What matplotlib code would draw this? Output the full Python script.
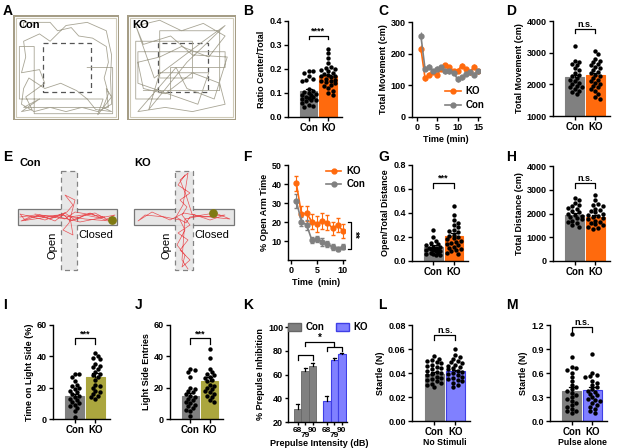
import numpy as np
import matplotlib
matplotlib.use('Agg')
import matplotlib.pyplot as plt
from matplotlib.patches import Rectangle, Patch
from matplotlib.lines import Line2D

plt.rcParams['font.family'] = ['Liberation Sans', 'DejaVu Sans']
plt.rcParams['font.weight'] = 'bold'
plt.rcParams['axes.labelweight'] = 'bold'

W, H = 617, 448
GRAY = '#808080'
ORANGE = '#FF6A0D'
OLIVE = '#ABA63E'
BLUE = '#8080FF'
BLUE_EDGE = '#3F3FE6'

# ---- data ----
groups = ['Con', 'KO']

# B ratio center/total
b_means = [0.107, 0.169]
b_errs = [0.008, 0.007]
b_con = [0.19, 0.19, 0.185, 0.17, 0.16, 0.155, 0.15, 0.115, 0.11, 0.105, 0.10, 0.095, 0.09,
         0.09, 0.085, 0.085, 0.08, 0.075, 0.07, 0.07, 0.065, 0.06, 0.05, 0.045, 0.04]
b_ko = [0.285, 0.265, 0.245, 0.225, 0.21, 0.205, 0.20, 0.195, 0.19, 0.185, 0.18, 0.175, 0.17,
        0.17, 0.165, 0.16, 0.155, 0.15, 0.15, 0.145, 0.14, 0.135, 0.13, 0.12, 0.11, 0.10, 0.09]

# C total movement over time
c_time = list(range(1, 16))
c_ko = [215, 123, 134, 142, 134, 152, 163, 157, 146, 146, 162, 150, 141, 158, 144]
c_ko_err = [12, 8, 8, 7, 7, 7, 7, 7, 7, 7, 7, 7, 7, 8, 7]
c_con = [255, 152, 158, 144, 153, 158, 144, 144, 139, 120, 125, 137, 141, 134, 144]
c_con_err = [12, 8, 8, 7, 7, 7, 7, 7, 7, 9, 8, 7, 7, 8, 7]

# D total movement
d_means = [2220, 2290]
d_errs = [80, 80]
d_con = [3200, 2750, 2700, 2650, 2600, 2500, 2450, 2350, 2300, 2250, 2200, 2150, 2100, 2050,
         2000, 1950, 1900, 1900, 1850, 1800, 1750, 1700]
d_ko = [3050, 2950, 2800, 2750, 2700, 2650, 2600, 2550, 2500, 2450, 2400, 2350, 2300, 2250,
        2200, 2150, 2100, 2050, 2000, 1950, 1900, 1850, 1800, 1700, 1600, 1550]

# F open arm time
f_time = list(range(1, 11))
f_ko = [40.4, 24.2, 24.6, 20.2, 19.0, 20.5, 19.6, 16.7, 18.4, 15.3]
f_ko_err = [4, 4, 4, 4, 4, 4, 4, 3.5, 3.5, 3.5]
f_con = [31.0, 20.2, 18.4, 10.5, 10.9, 9.6, 8.6, 6.7, 5.8, 7.0]
f_con_err = [3.5, 2.5, 2.5, 1.5, 1.5, 2, 1.5, 1.5, 1, 1.2]

# G open/total distance
g_means = [0.12, 0.21]
g_errs = [0.01, 0.02]
g_con = [0.26, 0.20, 0.17, 0.15, 0.14, 0.13, 0.12, 0.12, 0.11, 0.11, 0.10, 0.10, 0.09, 0.09,
         0.08, 0.08, 0.07, 0.07, 0.06, 0.06, 0.05, 0.05]
g_ko = [0.46, 0.38, 0.34, 0.32, 0.30, 0.28, 0.26, 0.25, 0.24, 0.22, 0.21, 0.20, 0.19, 0.18,
        0.17, 0.16, 0.15, 0.14, 0.13, 0.12, 0.11, 0.10, 0.09, 0.08, 0.07, 0.06]

# H total distance
h_means = [1950, 1870]
h_errs = [70, 70]
h_con = [2650, 2550, 2450, 2350, 2300, 2250, 2200, 2100, 2050, 2000, 1950, 1900, 1850, 1800,
         1750, 1700, 1650, 1600, 1500, 1450]
h_ko = [2800, 2550, 2400, 2350, 2300, 2200, 2150, 2100, 2050, 2000, 1950, 1900, 1850, 1800,
        1750, 1700, 1650, 1600, 1550, 1500, 1450, 1400, 1350]

# I time on light side
i_means = [14.5, 26.8]
i_errs = [1.5, 2.5]
i_con = [29, 28.5, 27, 24, 22, 21, 20, 19, 18, 17, 16, 15, 14, 13, 12, 11, 10, 9, 8, 7, 5, 1]
i_ko = [42, 40, 39, 38, 35, 34, 33, 32, 30, 29, 28, 27, 25, 22, 21, 20, 18, 17, 16, 15, 14, 13]

# J light side entries
j_means = [15.0, 24.5]
j_errs = [1.6, 2.5]
j_con = [32, 31, 30, 27, 20, 19, 18, 17, 16, 15, 14, 13, 12, 11, 10, 9, 8, 7, 6, 5, 2]
j_ko = [45, 39, 32, 30, 29, 28, 27, 26, 25, 24, 22, 21, 20, 19, 18, 17, 16, 15, 14, 12, 11]

# K prepulse inhibition
k_db = ['68', '79', '90']
k_con = [31, 63, 67.5]
k_con_err = [4, 2.5, 2.5]
k_ko = [38, 72.5, 77]
k_ko_err = [3.5, 1.5, 1.5]

# L startle, no stimuli
l_means = [0.0394, 0.0414]
l_errs = [0.0015, 0.0015]
l_con = [0.054, 0.052, 0.051, 0.050, 0.049, 0.048, 0.047, 0.046, 0.045, 0.044, 0.043, 0.042,
         0.041, 0.040, 0.039, 0.038, 0.037, 0.036, 0.035, 0.034, 0.033, 0.032, 0.031, 0.030, 0.028]
l_ko = [0.060, 0.055, 0.053, 0.052, 0.050, 0.049, 0.048, 0.047, 0.046, 0.045, 0.044, 0.043,
        0.042, 0.041, 0.040, 0.039, 0.038, 0.037, 0.036, 0.035, 0.034, 0.033, 0.032, 0.030, 0.028]

# M startle, pulse alone
m_means = [0.372, 0.385]
m_errs = [0.05, 0.035]
m_con = [1.09, 0.80, 0.67, 0.66, 0.64, 0.60, 0.55, 0.50, 0.45, 0.42, 0.40, 0.38, 0.35, 0.32,
         0.30, 0.28, 0.25, 0.22, 0.20, 0.18, 0.15, 0.13, 0.12, 0.10]
m_ko = [0.84, 0.60, 0.58, 0.56, 0.55, 0.50, 0.48, 0.45, 0.42, 0.40, 0.38, 0.36, 0.34, 0.32,
        0.30, 0.28, 0.26, 0.25, 0.22, 0.20, 0.18, 0.15, 0.12, 0.10]

# A open field tracks (box coords 0-1)
a_con_x = [0.10, 0.10, 0.35, 0.42, 0.55, 0.62, 0.75, 0.88, 0.90, 0.86, 0.90, 0.85, 0.93, 0.78,
           0.70, 0.60, 0.45, 0.30, 0.15, 0.10, 0.08, 0.20, 0.35, 0.50, 0.65, 0.80, 0.93, 0.92,
           0.93, 0.88, 0.70, 0.50, 0.35, 0.25, 0.10, 0.12, 0.08, 0.25, 0.30, 0.12, 0.18, 0.08,
           0.25, 0.10, 0.90, 0.88, 0.93, 0.80, 0.85, 0.06, 0.06, 0.20, 0.20, 0.94, 0.94, 0.70]
a_con_y = [0.88, 0.93, 0.93, 0.85, 0.88, 0.80, 0.78, 0.70, 0.55, 0.40, 0.25, 0.12, 0.08, 0.10,
           0.20, 0.28, 0.35, 0.30, 0.40, 0.30, 0.15, 0.08, 0.12, 0.08, 0.12, 0.08, 0.15, 0.40,
           0.62, 0.85, 0.93, 0.90, 0.75, 0.82, 0.75, 0.60, 0.45, 0.48, 0.35, 0.22, 0.10, 0.08,
           0.20, 0.12, 0.12, 0.30, 0.22, 0.05, 0.20, 0.20, 0.70, 0.70, 0.06, 0.06, 0.50, 0.50]
a_ko_x = [0.10, 0.30, 0.50, 0.70, 0.90, 0.75, 0.50, 0.30, 0.10, 0.15, 0.35, 0.60, 0.85, 0.90,
          0.60, 0.35, 0.10, 0.20, 0.45, 0.55, 0.80, 0.92, 0.60, 0.40, 0.15, 0.08, 0.25, 0.70,
          0.90, 0.55, 0.20, 0.30, 0.75, 0.65, 0.10, 0.10, 0.90, 0.90, 0.40, 0.40, 0.08, 0.08,
          0.60, 0.60, 0.30, 0.30, 0.85, 0.85, 0.15]
a_ko_y = [0.90, 0.95, 0.85, 0.92, 0.80, 0.60, 0.70, 0.60, 0.55, 0.30, 0.25, 0.45, 0.35, 0.15,
          0.08, 0.12, 0.08, 0.20, 0.50, 0.30, 0.20, 0.60, 0.62, 0.80, 0.72, 0.90, 0.40, 0.75,
          0.90, 0.55, 0.10, 0.45, 0.45, 0.15, 0.35, 0.65, 0.65, 0.50, 0.50, 0.20, 0.20, 0.75,
          0.75, 0.40, 0.40, 0.85, 0.85, 0.28, 0.28]

# E elevated plus maze tracks (panel coords, y down)
e_con_x = [5, 20, 35, 48, 55, 70, 85, 100, 90, 75, 60, 50, 40, 25, 10, 5, 30, 52, 58, 50,
           60, 54, 48, 58, 55, 80, 95, 70, 45, 15, 6, 40, 65, 90, 60, 50, 20]
e_con_y = [52, 50, 54, 49, 56, 50, 53, 50, 55, 48, 55, 48, 56, 50, 55, 49, 55, 47, 40, 30,
           35, 58, 65, 70, 52, 48, 56, 54, 50, 52, 56, 51, 57, 52, 47, 54, 49]
e_ko_x = [55, 48, 60, 50, 57, 52, 60, 48, 58, 50, 60, 52, 55, 47, 55, 50, 35, 15, 8, 22,
          40, 54, 75, 95, 80, 62, 56, 50, 58, 53, 46, 56, 60, 85, 100, 70, 55, 52, 58]
e_ko_y = [10, 20, 28, 35, 42, 50, 60, 68, 75, 85, 95, 102, 90, 80, 65, 55, 52, 50, 56, 47,
          55, 48, 52, 50, 55, 49, 30, 15, 8, 40, 52, 58, 52, 48, 54, 51, 54, 95, 104]


def px_axes(fig, x0, y0, x1, y1):
    return fig.add_axes([x0 / W, 1 - y1 / H, (x1 - x0) / W, (y1 - y0) / H])


def style(ax, length=3):
    for s in ['top', 'right']:
        ax.spines[s].set_visible(False)
    for s in ['left', 'bottom']:
        ax.spines[s].set_linewidth(1.0)
    ax.tick_params(direction='out', length=length, width=1, labelsize=6.5, pad=1.5)
    for lab in ax.get_xticklabels() + ax.get_yticklabels():
        lab.set_fontweight('bold')


def swarm(vals, lo, hi, h_px, unit_px, dot_px=4.3):
    placed = []
    offs = []
    for v in vals:
        ypx = (v - lo) / (hi - lo) * h_px
        best, best_d = 0.0, -1
        for k in [0, 1, -1, 2, -2, 3, -3, 4, -4]:
            o = k * dot_px * 0.55
            if abs(o) > 0.42 * unit_px:
                continue
            d = min([np.hypot(o - px, ypx - py) for px, py in placed] + [99])
            if d >= dot_px * 0.9:
                best = o
                best_d = d
                break
            if d > best_d:
                best, best_d = o, d
        placed.append((best, ypx))
        offs.append(best / unit_px)
    return offs


def bracket(ax, x1, x2, y, tip, text, size=6.5, dy=0.0):
    ax.plot([x1, x1, x2, x2], [y - tip, y, y, y - tip], color='k', lw=0.9, clip_on=False)
    ax.text((x1 + x2) / 2, y + dy, text, ha='center', va='bottom', fontsize=size,
            fontweight='bold', clip_on=False)


def under_label(ax, x, text, off_px, size=6):
    # text placed a fixed number of pixels under the x axis
    ax.annotate(text, xy=(x, 0), xycoords=('data', 'axes fraction'),
                xytext=(0, -off_px * 0.72), textcoords='offset points',
                ha='center', va='center', fontsize=size, fontweight='bold', annotation_clip=False)


def dot_bar(fig, box, means, errs, dots, colors, ylim, yticks, fmt, ylabel, sig, sig_y, tip,
            xlabel=None, edges=None):
    x0, y0, x1, y1 = box
    ax = px_axes(fig, x0, y0, x1, y1)
    unit_px = (x1 - x0) / 2.75
    edges = edges or colors
    for i in range(2):
        ax.bar(i, means[i], width=0.9, color=colors[i], edgecolor=edges[i], lw=0.8, zorder=1)
        ax.plot([i, i], [means[i], means[i] + errs[i]], color='k', lw=0.9, zorder=4)
        ax.plot([i - 0.15, i + 0.15], [means[i] + errs[i]] * 2, color='k', lw=0.9, zorder=4)
        offs = swarm(dots[i], ylim[0], ylim[1], y1 - y0, unit_px)
        ax.scatter(np.array(offs) + i, dots[i], s=10, color='k', zorder=3, lw=0)
    ax.set_xlim(-1.05, 1.7)
    ax.set_ylim(*ylim)
    ax.set_yticks(yticks)
    ax.set_yticklabels([fmt.format(t) for t in yticks])
    ax.set_xticks([0, 1])
    ax.set_xticklabels(groups, fontsize=7)
    ax.set_ylabel(ylabel, fontsize=6.5, labelpad=2)
    style(ax)
    for lab in ax.get_xticklabels():
        lab.set_fontsize(7)
    if xlabel:
        under_label(ax, 0.5, xlabel, 21.5, size=6.3)
    bracket(ax, 0, 1, sig_y, tip, sig)
    return ax


fig = plt.figure(figsize=(W / 100, H / 100), dpi=100)

# panel letters
for letter, (lx, ly) in {'A': (3, 4), 'B': (243, 4), 'C': (378, 4), 'D': (506, 4),
                         'E': (3, 150), 'F': (243, 150), 'G': (378, 150), 'H': (506, 150),
                         'I': (3, 298), 'J': (135, 298), 'K': (243, 298), 'L': (378, 298),
                         'M': (506, 298)}.items():
    fig.text(lx / W, 1 - ly / H, letter, fontsize=10, fontweight='bold', va='top', ha='left')

# ---- A: open field tracks ----
for (bx0, bx1), lab, tx, ty in [((13, 119), 'Con', a_con_x, a_con_y),
                                ((127, 236), 'KO', a_ko_x, a_ko_y)]:
    ax = px_axes(fig, bx0, 15, bx1, 120)
    ax.set_xlim(0, 1)
    ax.set_ylim(0, 1)
    ax.axis('off')
    ax.add_patch(Rectangle((0, 0), 1, 1, fill=False, ec='#A59D86', lw=2.2))
    ax.add_patch(Rectangle((0.025, 0.025), 0.95, 0.95, fill=False, ec='#CFCAB8', lw=0.8))
    ax.plot(tx, ty, color='#A8A595', lw=0.6)
    ax.add_patch(Rectangle((0.28, 0.27), 0.46, 0.46, fill=False, ec='#555555', lw=0.9,
                           ls=(0, (4, 3))))
    ax.text(0.05, 0.95, lab, fontsize=8, fontweight='bold', va='top', ha='left')

# ---- E: plus maze ----
for (bx0, bx1), lab, tx, ty, hx, vx, dot in [((15, 125), 'Con', e_con_x, e_con_y, (3, 102), (46, 62), (97, 55)),
                                             ((130, 240), 'KO', e_ko_x, e_ko_y, (4, 104), (45, 63), (83, 48))]:
    ax = px_axes(fig, bx0, 165, bx1, 275)
    ax.set_xlim(0, 110)
    ax.set_ylim(110, 0)
    ax.axis('off')
    ax.add_patch(Rectangle((hx[0], 44), hx[1] - hx[0], 16, fc='#E6E6E6', ec='#777777', lw=0.9))
    ax.add_patch(Rectangle((vx[0], 6), vx[1] - vx[0], 99, fc='#E6E6E6', ec='#777777', lw=0.9,
                           ls=(0, (4, 3)), alpha=0.9))
    ax.plot(tx, ty, color='#E8383D', lw=0.5, alpha=0.85)
    ax.scatter([dot[0]], [dot[1]], s=28, color='#7F7A12', zorder=5)
    ax.text(vx[1] + 1, 65, 'Closed', fontsize=8, fontweight='normal', va='top', ha='left')
    ax.text(vx[0] - 3, 80, 'Open', fontsize=8, fontweight='normal', rotation=90,
            va='center', ha='right')
    fig.text((bx0 + 4) / W, 1 - 158 / H, lab, fontsize=8, fontweight='bold', va='top')

# ---- B ----
dot_bar(fig, (288, 21, 342, 117), b_means, b_errs, [b_con, b_ko], [GRAY, ORANGE], (0, 0.4),
        [0, 0.1, 0.2, 0.3, 0.4], '{:.1f}', 'Ratio Center/Total', '****', 0.338, 0.015)

# ---- C ----
ax = px_axes(fig, 412, 22, 480, 117)
ax.errorbar(c_time, c_ko, yerr=c_ko_err, color=ORANGE, marker='o', ms=3.5, lw=1.2,
            capsize=0, elinewidth=0.8, label='KO')
ax.errorbar(c_time, c_con, yerr=c_con_err, color=GRAY, marker='o', ms=3.5, lw=1.2,
            capsize=0, elinewidth=0.8, label='Con')
ax.set_xlim(-1.2, 15.5)
ax.set_ylim(0, 300)
ax.set_yticks([0, 100, 200, 300])
ax.set_xticks([0, 5, 10, 15])
ax.set_xlabel('Time (min)', fontsize=6.5, labelpad=2)
ax.set_ylabel('Total Movement (cm)', fontsize=6.5, labelpad=2)
style(ax)
hl = [Line2D([], [], color=ORANGE, marker='o', ms=3.5, lw=1.2),
      Line2D([], [], color=GRAY, marker='o', ms=3.5, lw=1.2)]
leg = ax.legend(hl, ['KO', 'Con'], loc='lower left', bbox_to_anchor=(0.42, 0.02), frameon=False,
                fontsize=7, handlelength=1.6, handletextpad=0.5, labelspacing=0.4, borderpad=0)
for t in leg.get_texts():
    t.set_fontweight('bold')

# ---- D ----
dot_bar(fig, (553, 21, 610, 116), d_means, d_errs, [d_con, d_ko], [GRAY, ORANGE], (1000, 4000),
        [1000, 2000, 3000, 4000], '{:.0f}', 'Total Movement (cm)', 'n.s.', 3740, 120)

# ---- F ----
ax = px_axes(fig, 288, 165, 345, 260)
ax.errorbar(f_time, f_ko, yerr=f_ko_err, color=ORANGE, marker='o', ms=3.5, lw=1.2,
            capsize=1.5, elinewidth=0.8)
ax.errorbar(f_time, f_con, yerr=f_con_err, color=GRAY, marker='o', ms=3.5, lw=1.2,
            capsize=1.5, elinewidth=0.8)
ax.set_xlim(-0.6, 10.4)
ax.set_ylim(0, 50)
ax.set_yticks([10, 20, 30, 40, 50])
ax.set_xticks([0, 5, 10])
ax.set_xlabel('Time  (min)', fontsize=6.5, labelpad=2)
ax.set_ylabel('% Open Arm Time', fontsize=6.5, labelpad=2)
style(ax)
leg = ax.legend(hl, ['KO', 'Con'], loc='upper left', bbox_to_anchor=(0.58, 1.04), frameon=False,
                fontsize=7, handlelength=1.6, handletextpad=0.5, labelspacing=0.3, borderpad=0)
for t in leg.get_texts():
    t.set_fontweight('bold')
ax.plot([10.9, 11.5, 11.5, 10.9], [20, 20, 6, 6], color='k', lw=0.9, clip_on=False)
ax.text(12.2, 13, '**', fontsize=7, fontweight='bold', rotation=-90, va='center', ha='center')

# ---- G ----
dot_bar(fig, (412, 165, 468, 261), g_means, g_errs, [g_con, g_ko], [GRAY, ORANGE], (0, 0.8),
        [0, 0.2, 0.4, 0.6, 0.8], '{:.1f}', 'Open/Total Distance', '***', 0.65, 0.04)

# ---- H ----
dot_bar(fig, (553, 166, 610, 261), h_means, h_errs, [h_con, h_ko], [GRAY, ORANGE], (0, 4000),
        [0, 1000, 2000, 3000, 4000], '{:.0f}', 'Total Distance (cm)', 'n.s.', 3280, 200)

# ---- I ----
dot_bar(fig, (53, 325, 110, 419), i_means, i_errs, [i_con, i_ko], [GRAY, OLIVE], (0, 60),
        [0, 20, 40, 60], '{:.0f}', 'Time on Light Side (%)', '***', 51.5, 3.5)

# ---- J ----
dot_bar(fig, (170, 325, 223, 419), j_means, j_errs, [j_con, j_ko], [GRAY, OLIVE], (0, 60),
        [0, 20, 40, 60], '{:.0f}', 'Light Side Entries', '***', 51.5, 3.5)

# ---- K ----
ax = px_axes(fig, 288, 327, 347, 422)
xc = np.arange(3)
xk = np.arange(3) + 3.9
ax.bar(xc, k_con, width=1.0, color=GRAY, edgecolor='#666666', lw=0.6)
ax.bar(xk, k_ko, width=1.0, color=BLUE, edgecolor=BLUE_EDGE, lw=0.8)
for xs, ms, es in [(xc, k_con, k_con_err), (xk, k_ko, k_ko_err)]:
    for x, m, e in zip(xs, ms, es):
        ax.plot([x, x], [m, m + e], color='k', lw=0.9)
        ax.plot([x - 0.18, x + 0.18], [m + e] * 2, color='k', lw=0.9)
ax.set_xlim(-1.3, 6.6)
ax.set_ylim(20, 100)
ax.set_yticks([20, 40, 60, 80, 100])
ax.set_xticks(list(xc) + list(xk))
ax.set_xticklabels([k_db[0], '', k_db[2]] * 2)
ax.set_ylabel('% Prepulse Inhibition', fontsize=6.5, labelpad=2)
style(ax, length=2)
for lab in ax.get_xticklabels():
    lab.set_fontsize(6)
for x in [xc[1], xk[1]]:
    under_label(ax, x, k_db[1], 13, size=6)
under_label(ax, (xc[0] + xk[2]) / 2, 'Prepulse Intensity (dB)', 21, size=6.5)
ax.plot([0, 0, 2, 2], [72, 76.5, 76.5, 72], color='k', lw=0.9)
ax.plot([3.9, 3.9, 5.9, 5.9], [80, 83.5, 83.5, 80], color='k', lw=0.9)
bracket(ax, 1, 4.9, 87.5, 3.5, '*', size=7, dy=-0.5)
leg = ax.legend([Patch(fc=GRAY, ec='#666666'), Patch(fc=BLUE, ec=BLUE_EDGE)], groups,
                loc='center left', bbox_to_anchor=(0.0, 1.0), ncol=2, frameon=False, fontsize=7,
                handlelength=1.3, handleheight=0.9, handletextpad=0.5, columnspacing=1.2,
                borderpad=0, borderaxespad=0)
for t in leg.get_texts():
    t.set_fontweight('bold')

# ---- L ----
dot_bar(fig, (412, 325, 470, 421), l_means, l_errs, [l_con, l_ko], [GRAY, BLUE], (0, 0.08),
        [0, 0.02, 0.04, 0.06, 0.08], '{:.2f}', 'Startle (N)', 'n.s.', 0.0715, 0.004,
        xlabel='No Stimuli', edges=['#808080', BLUE_EDGE])

# ---- M ----
dot_bar(fig, (550, 325, 607, 421), m_means, m_errs, [m_con, m_ko], [GRAY, BLUE], (0, 1.2),
        [0, 0.3, 0.6, 0.9, 1.2], '{:.1f}', 'Startle (N)', 'n.s.', 1.17, 0.06,
        xlabel='Pulse alone', edges=['#808080', BLUE_EDGE])

fig.savefig('out.png', dpi=100)
